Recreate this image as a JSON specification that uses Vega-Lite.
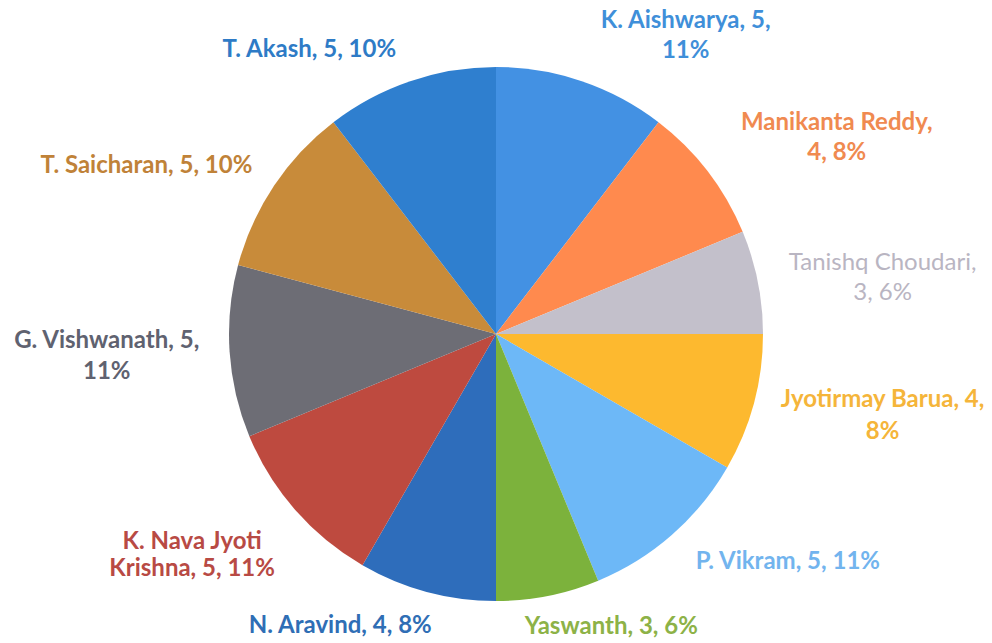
{
  "$schema": "https://vega.github.io/schema/vega-lite/v6.json",
  "width": 992,
  "height": 643,
  "autosize": {"type": "fit", "contains": "padding"},
  "padding": {"top": 34, "bottom": 0, "left": 0, "right": 0},
  "background": "white",
  "config": {"view": {"stroke": null}},
  "data": {
    "values": [
      {"name": "K. Aishwarya", "value": 5, "pct": 11, "label": "K. Aishwarya, 5,\n11%"},
      {"name": "Manikanta Reddy", "value": 4, "pct": 8, "label": "Manikanta Reddy,\n4, 8%"},
      {"name": "Tanishq Choudari", "value": 3, "pct": 6, "label": "Tanishq Choudari,\n3, 6%"},
      {"name": "Jyotirmay Barua", "value": 4, "pct": 8, "label": "Jyotirmay Barua, 4,\n8%"},
      {"name": "P. Vikram", "value": 5, "pct": 11, "label": "P. Vikram, 5, 11%"},
      {"name": "Yaswanth", "value": 3, "pct": 6, "label": "Yaswanth, 3, 6%"},
      {"name": "N. Aravind", "value": 4, "pct": 8, "label": "N. Aravind, 4, 8%"},
      {"name": "K. Nava Jyoti Krishna", "value": 5, "pct": 11, "label": "K. Nava Jyoti\nKrishna, 5, 11%"},
      {"name": "G. Vishwanath", "value": 5, "pct": 11, "label": "G. Vishwanath, 5,\n11%"},
      {"name": "T. Saicharan", "value": 5, "pct": 10, "label": "T. Saicharan, 5, 10%"},
      {"name": "T. Akash", "value": 5, "pct": 10, "label": "T. Akash, 5, 10%"}
    ]
  },
  "transform": [{"window": [{"op": "row_number", "as": "rank"}]}],
  "encoding": {
    "theta": {"field": "value", "type": "quantitative", "stack": true},
    "order": {"field": "rank", "type": "quantitative"}
  },
  "layer": [
    {
      "mark": {"type": "arc", "outerRadius": 267, "stroke": null},
      "encoding": {
        "color": {
          "field": "name",
          "type": "nominal",
          "legend": null,
          "scale": {
            "domain": ["K. Aishwarya", "Manikanta Reddy", "Tanishq Choudari", "Jyotirmay Barua", "P. Vikram", "Yaswanth", "N. Aravind", "K. Nava Jyoti Krishna", "G. Vishwanath", "T. Saicharan", "T. Akash"],
            "range": ["#4391E3", "#FF8A4E", "#C3C0CB", "#FDB92F", "#6DB8F7", "#7CB23C", "#2E6DBB", "#BE4A3F", "#6D6D75", "#C88B3A", "#2F7FCF"]
          }
        }
      }
    },
    {
      "mark": {"type": "text", "radius": 335, "dx": 82, "dy": 4, "color": "#3F8FD9", "font": "Lato", "fontSize": 24, "fontWeight": "bold", "lineBreak": "\n", "lineHeight": 30, "align": "center", "baseline": "middle"},
      "encoding": {"text": {"condition": {"test": "datum.name === 'K. Aishwarya'", "field": "label"}, "value": ""}}
    },
    {
      "mark": {"type": "text", "radius": 335, "dx": 75, "dy": -7, "color": "#F08A50", "font": "Lato", "fontSize": 24, "fontWeight": "bold", "lineBreak": "\n", "lineHeight": 30, "align": "center", "baseline": "middle"},
      "encoding": {"text": {"condition": {"test": "datum.name === 'Manikanta Reddy'", "field": "label"}, "value": ""}}
    },
    {
      "mark": {"type": "text", "radius": 335, "dx": 58, "dy": -6, "color": "#B9B5C2", "font": "Lato", "fontSize": 24, "fontWeight": "normal", "lineBreak": "\n", "lineHeight": 30, "align": "center", "baseline": "middle"},
      "encoding": {"text": {"condition": {"test": "datum.name === 'Tanishq Choudari'", "field": "label"}, "value": ""}}
    },
    {
      "mark": {"type": "text", "radius": 335, "dx": 63, "dy": -21, "color": "#F5B53A", "font": "Lato", "fontSize": 24, "fontWeight": "bold", "lineBreak": "\n", "lineHeight": 32, "align": "center", "baseline": "middle"},
      "encoding": {"text": {"condition": {"test": "datum.name === 'Jyotirmay Barua'", "field": "label"}, "value": ""}}
    },
    {
      "mark": {"type": "text", "radius": 335, "dx": 71, "dy": -24, "color": "#72B4EE", "font": "Lato", "fontSize": 24, "fontWeight": "bold", "lineBreak": "\n", "lineHeight": 30, "align": "center", "baseline": "middle"},
      "encoding": {"text": {"condition": {"test": "datum.name === 'P. Vikram'", "field": "label"}, "value": ""}}
    },
    {
      "mark": {"type": "text", "radius": 335, "dx": 50, "dy": -36, "color": "#8DB247", "font": "Lato", "fontSize": 24, "fontWeight": "bold", "lineBreak": "\n", "lineHeight": 30, "align": "center", "baseline": "middle"},
      "encoding": {"text": {"condition": {"test": "datum.name === 'Yaswanth'", "field": "label"}, "value": ""}}
    },
    {
      "mark": {"type": "text", "radius": 335, "dx": -69, "dy": -32, "color": "#2F6EB5", "font": "Lato", "fontSize": 24, "fontWeight": "bold", "lineBreak": "\n", "lineHeight": 30, "align": "center", "baseline": "middle"},
      "encoding": {"text": {"condition": {"test": "datum.name === 'N. Aravind'", "field": "label"}, "value": ""}}
    },
    {
      "mark": {"type": "text", "radius": 335, "dx": -52, "dy": -13, "color": "#B84A44", "font": "Lato", "fontSize": 24, "fontWeight": "bold", "lineBreak": "\n", "lineHeight": 27, "align": "center", "baseline": "middle"},
      "encoding": {"text": {"condition": {"test": "datum.name === 'K. Nava Jyoti Krishna'", "field": "label"}, "value": ""}}
    },
    {
      "mark": {"type": "text", "radius": 335, "dx": -55, "dy": -15, "color": "#5F6270", "font": "Lato", "fontSize": 24, "fontWeight": "bold", "lineBreak": "\n", "lineHeight": 31, "align": "center", "baseline": "middle"},
      "encoding": {"text": {"condition": {"test": "datum.name === 'G. Vishwanath'", "field": "label"}, "value": ""}}
    },
    {
      "mark": {"type": "text", "radius": 335, "dx": -71, "dy": 18, "color": "#C08238", "font": "Lato", "fontSize": 24, "fontWeight": "bold", "lineBreak": "\n", "lineHeight": 30, "align": "center", "baseline": "middle"},
      "encoding": {"text": {"condition": {"test": "datum.name === 'T. Saicharan'", "field": "label"}, "value": ""}}
    },
    {
      "mark": {"type": "text", "radius": 335, "dx": -79, "dy": 33, "color": "#2E7BC6", "font": "Lato", "fontSize": 24, "fontWeight": "bold", "lineBreak": "\n", "lineHeight": 30, "align": "center", "baseline": "middle"},
      "encoding": {"text": {"condition": {"test": "datum.name === 'T. Akash'", "field": "label"}, "value": ""}}
    }
  ]
}
